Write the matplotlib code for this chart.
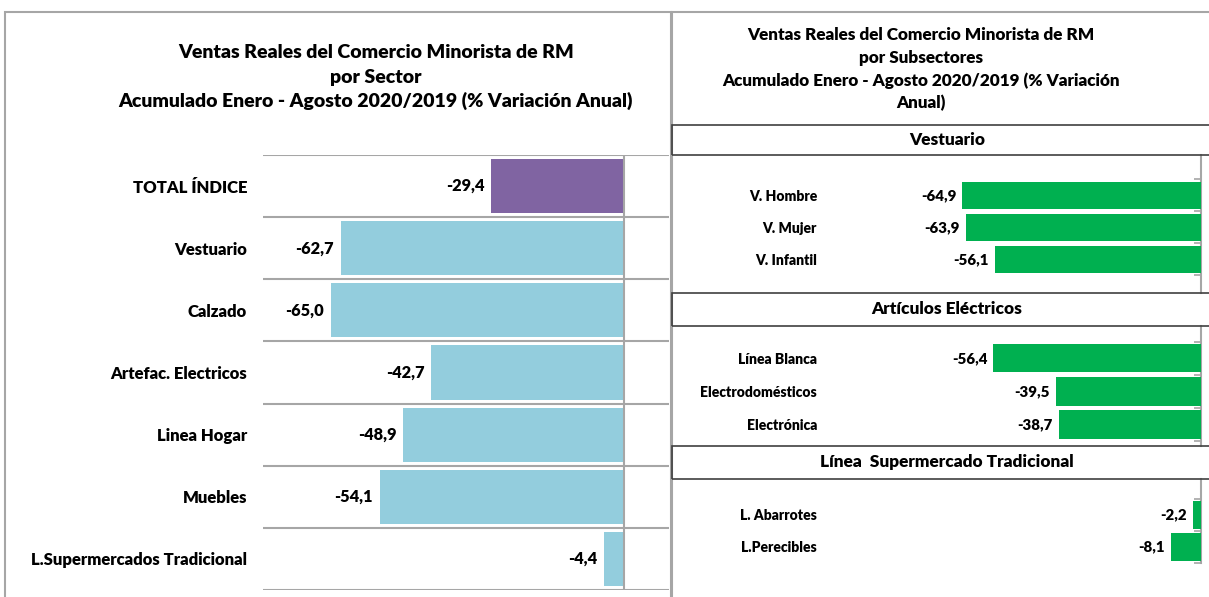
import matplotlib.pyplot as plt
from matplotlib.patches import Rectangle
import matplotlib.transforms as mtransforms

plt.rcParams['font.family'] = ['Lato', 'DejaVu Sans']
plt.rcParams['font.weight'] = 'heavy'
WT = 'heavy'

W, H = 1209, 597

# left chart data
sectores = ['TOTAL ÍNDICE', 'Vestuario', 'Calzado', 'Artefac. Electricos',
            'Linea Hogar', 'Muebles', 'L.Supermercados Tradicional']
var_sector = [-29.4, -62.7, -65.0, -42.7, -48.9, -54.1, -4.4]
colores_sector = ['#8064A2'] + ['#93CDDD'] * 6

# right chart data
vest_labels = ['V. Hombre', 'V. Mujer', 'V. Infantil']
vest_vals = [-64.9, -63.9, -56.1]
elec_labels = ['Línea Blanca', 'Electrodomésticos', 'Electrónica']
elec_vals = [-56.4, -39.5, -38.7]
super_labels = ['L. Abarrotes', 'L.Perecibles']
super_vals = [-2.2, -8.1]
grupos = ['Vestuario', 'Artículos Eléctricos', 'Línea  Supermercado Tradicional']

titulo_izq = ['Ventas Reales del Comercio Minorista de RM', 'por Sector',
              'Acumulado Enero - Agosto 2020/2019 (% Variación Anual)']
titulo_der = ['Ventas Reales del Comercio Minorista de RM', 'por Subsectores',
              'Acumulado Enero - Agosto 2020/2019 (% Variación', 'Anual)']

GRAY = '#a6a6a6'


def box(x0, y0, x1, y1):
    # pixel box -> figure fraction [left, bottom, width, height]
    return [x0 / W, 1 - y1 / H, (x1 - x0) / W, (y1 - y0) / H]


def fmt(v):
    return f'{v:.1f}'.replace('.', ',')


fig = plt.figure(figsize=(W / 100, H / 100), dpi=100)

# panel borders
fig.add_artist(Rectangle((5 / W, -0.1), 666 / W, 1.1 - 12 / H, transform=fig.transFigure,
                         fill=False, edgecolor=GRAY, lw=1.5))
fig.add_artist(Rectangle((672 / W, -0.1), 0.6, 1.1 - 12 / H, transform=fig.transFigure,
                         fill=False, edgecolor=GRAY, lw=1.5))

# ---- left chart ----
for i, t in enumerate(titulo_izq):
    fig.text(376 / W, 1 - [52, 77, 101][i] / H, t, ha='center', va='center',
             fontsize=14, fontweight=WT)

ax = fig.add_axes(box(263, 155, 669, 590))
pos = list(range(len(sectores)))
ax.barh(pos, var_sector, height=0.87, color=colores_sector, zorder=3)
ax.set_xlim(-80, 10)
ax.set_ylim(len(sectores) - 0.5, -0.5)
ax.set_yticks(pos)
ax.set_yticklabels(sectores, fontsize=12, fontweight=WT)
ax.set_yticks([p - 0.5 for p in pos] + [len(pos) - 0.5], minor=True)
ax.tick_params(axis='y', which='both', length=0, pad=11.5)
ax.grid(axis='y', which='minor', color=GRAY, lw=1.5, zorder=1)
ax.grid(axis='y', which='major', visible=False)
ax.set_xticks([])
ax.axvline(0, color=GRAY, lw=1.5, zorder=4)
for s in ax.spines.values():
    s.set_visible(False)
off = mtransforms.offset_copy(ax.transData, fig=fig, x=-7, y=0, units='dots')
for p, v in zip(pos, var_sector):
    ax.text(v, p, fmt(v), transform=off, ha='right', va='center',
            fontsize=11.8, fontweight=WT)

# ---- right chart ----
for i, t in enumerate(titulo_der):
    fig.text(921 / W, 1 - [35, 58, 81, 103][i] / H, t, ha='center', va='center',
             fontsize=12.3, fontweight=WT)

headers = [(125, 155), (293, 326), (446, 479)]
for (y0, y1), g in zip(headers, grupos):
    fig.add_artist(Rectangle((672 / W, 1 - y1 / H), 0.5, (y1 - y0) / H,
                             transform=fig.transFigure, fill=False,
                             edgecolor='#404040', lw=1.2, zorder=5))
    fig.text(947 / W, 1 - (y0 + y1) / 2 / H, g, ha='center', va='center',
             fontsize=12.4, fontweight=WT)

paneles = [
    (vest_labels, vest_vals, (155, 293), (3.05, -1.26)),
    (elec_labels, elec_vals, (326, 446), (2.65, -0.98)),
    (super_labels, super_vals, (479, 563), (1.5, -1.125)),
]
for labels, vals, (y0, y1), ylim in paneles:
    a = fig.add_axes(box(833, y0, 1209, y1))
    yp = list(range(len(labels)))
    a.barh(yp, vals, height=0.85, color='#00B050', zorder=3)
    a.set_xlim(-100, 8 / 3.68)
    a.set_ylim(*ylim)
    a.set_yticks(yp)
    a.set_yticklabels(labels, fontsize=11.3, fontweight=WT)
    a.set_yticks([p - 0.5 for p in yp] + [len(yp) - 0.5], minor=True)
    a.tick_params(axis='y', which='major', length=0, pad=11.5)
    a.tick_params(axis='y', which='minor', left=False, right=True,
                  direction='in', length=5, color=GRAY, width=1.2)
    a.set_xticks([])
    for k in ['top', 'bottom', 'left']:
        a.spines[k].set_visible(False)
    a.spines['right'].set_position(('data', 0))
    a.spines['right'].set_color(GRAY)
    a.spines['right'].set_linewidth(1.5)
    a.patch.set_alpha(0)
    off2 = mtransforms.offset_copy(a.transData, fig=fig, x=-6, y=0, units='dots')
    for p, v in zip(yp, vals):
        a.text(v, p, fmt(v), transform=off2, ha='right', va='center',
               fontsize=10.8, fontweight=WT)

fig.savefig('out.png', dpi=100)
